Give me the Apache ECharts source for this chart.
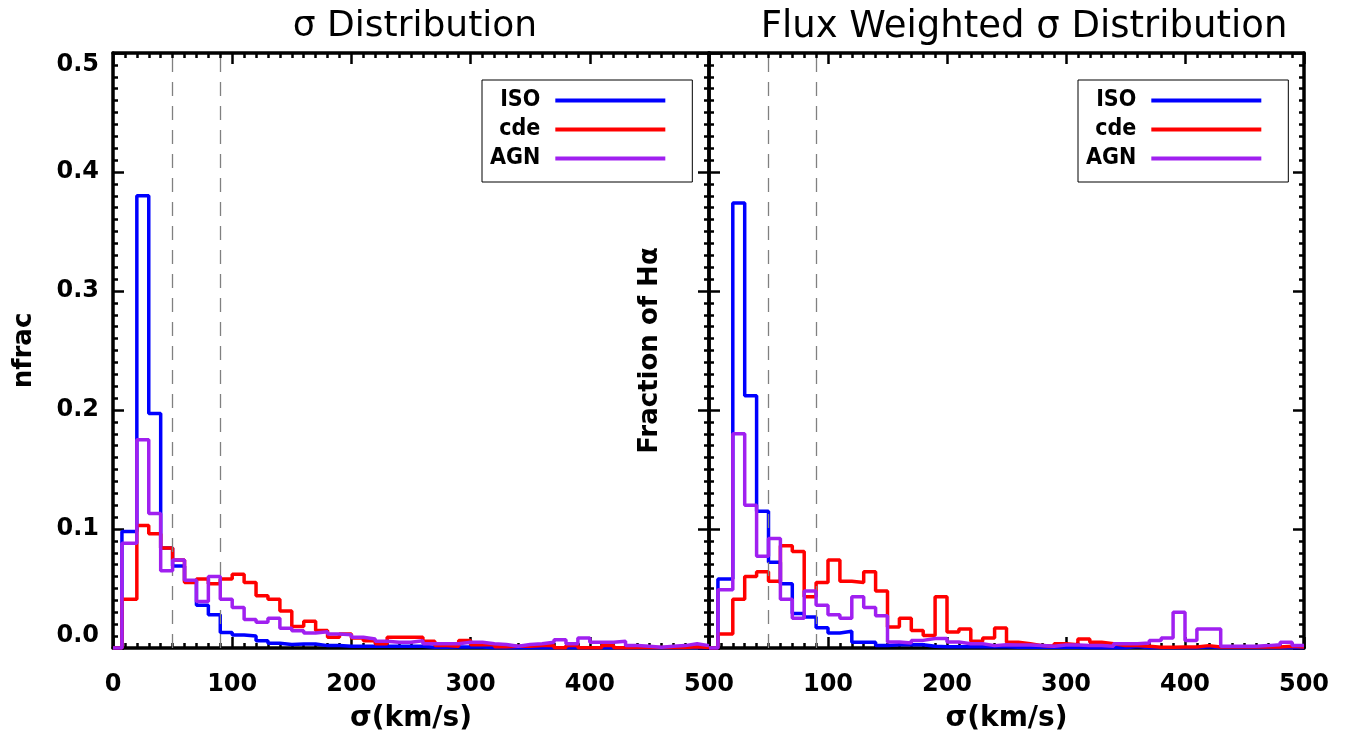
<!DOCTYPE html>
<html>
<head>
<meta charset="utf-8">
<script src="https://cdn.jsdelivr.net/npm/echarts/dist/echarts.min.js"></script>
<style>
html,body{margin:0;padding:0;background:#fff;}
#chart{width:1346px;height:738px;}
</style>
</head>
<body>
<div id="chart"></div>
<script>
// ---- data ----
const binEdges = [0, 7.5, 20, 30, 40, 50, 60, 70, 80, 90, 100, 110, 120, 130, 140, 150, 160, 170, 180, 190, 200,
  210, 220, 230, 240, 250, 260, 270, 280, 290, 300, 310, 320, 330, 340, 350, 360, 370, 380, 390, 400,
  410, 420, 430, 440, 450, 460, 470, 480, 490, 500];

const seriesNames = ['ISO', 'cde', 'AGN'];
const panelTitles = ['σ Distribution', 'Flux Weighted σ Distribution'];
const yAxisNames = ['nfrac', 'Fraction of Hα'];
const xAxisName = 'σ(km/s)';
const xTickLabels = ['0', '100', '200', '300', '400', '500'];
const yTickLabels = ['0.0', '0.1', '0.2', '0.3', '0.4', '0.5'];
const refLines = [50, 90];

const leftISO = [0, 0.098, 0.380, 0.197, 0.084, 0.069, 0.056, 0.036, 0.028, 0.013,
  0.011, 0.010, 0.006, 0.004, 0.003, 0.0034, 0.0034, 0.002, 0.002, 0.0014,
  0.0014, 0.0014, 0.0014, 0.0014, 0.0014, 0.0014, 0.0006, 0.0006, 0.0008, 0.0008,
  0.0008, 0.0003, 0.0002, 0.0002, 0.0002, 0.0002, 0.0002, 0.0002, 0.0002, 0.0002,
  0.0002, 0.0002, 0.0002, 0.0002, 0.0002, 0.0002, 0.0002, 0.0002, 0.0002, 0.0002];
const leftCde = [0, 0.041, 0.103, 0.096, 0.084, 0.074, 0.055, 0.058, 0.054, 0.058,
  0.062, 0.055, 0.044, 0.041, 0.031, 0.018, 0.0224, 0.0148, 0.009, 0.0118,
  0.0084, 0.006, 0.0036, 0.009, 0.009, 0.009, 0.0056, 0.002, 0.0014, 0.0064,
  0.0028, 0.003, 0.001, 0.0014, 0.0014, 0.002, 0.002, 0.0003, 0.002, 0.0003,
  0.0003, 0.002, 0.0003, 0.0005, 0.0005, 0.0005, 0.0005, 0.0005, 0.001, 0.0005];
const leftAGN = [0, 0.088, 0.175, 0.113, 0.065, 0.074, 0.057, 0.039, 0.060, 0.041,
  0.034, 0.024, 0.0216, 0.025, 0.0165, 0.0146, 0.0126, 0.0137, 0.0118, 0.0112,
  0.009, 0.0076, 0.0056, 0.0048, 0.0048, 0.006, 0.0036, 0.0036, 0.0036, 0.0048,
  0.0048, 0.0036, 0.003, 0.0014, 0.003, 0.0036, 0.0048, 0.007, 0.0036, 0.0084,
  0.0048, 0.0048, 0.0056, 0.002, 0.0014, 0.0006, 0.0014, 0.002, 0.0036, 0.002];

const rightISO = [0, 0.058, 0.374, 0.212, 0.115, 0.072, 0.054, 0.029, 0.026, 0.017,
  0.0126, 0.014, 0.0048, 0.0048, 0.002, 0.0028, 0.0028, 0.0028, 0.0014, 0.001,
  0.001, 0.001, 0.001, 0.001, 0.001, 0.0006, 0.0006, 0.0006, 0.0006, 0.0006,
  0.0006, 0.0003, 0.0003, 0.0003, 0.0003, 0.0012, 0.0003, 0.0003, 0.0003, 0.0003,
  0.0003, 0.001, 0.0003, 0.0003, 0.0003, 0.0003, 0.0003, 0.0003, 0.0003, 0.0003];
const rightCde = [0, 0.0118, 0.041, 0.060, 0.064, 0.056, 0.086, 0.081, 0.043, 0.055,
  0.074, 0.056, 0.055, 0.064, 0.048, 0.0176, 0.025, 0.0148, 0.0104, 0.043,
  0.0134, 0.016, 0.0056, 0.0084, 0.0168, 0.0048, 0.0036, 0.002, 0.0014, 0.0036,
  0.0028, 0.0076, 0.0048, 0.0036, 0.002, 0.002, 0.0014, 0.0006, 0.0006, 0.0008,
  0.0008, 0.002, 0.0008, 0.0008, 0.0008, 0.0008, 0.0008, 0.0008, 0.0014, 0.0008];
const rightAGN = [0, 0.049, 0.180, 0.120, 0.077, 0.092, 0.041, 0.025, 0.048, 0.036,
  0.028, 0.025, 0.043, 0.034, 0.027, 0.005, 0.0042, 0.0064, 0.008, 0.008,
  0.005, 0.0036, 0.0036, 0.002, 0.0028, 0.0025, 0.0025, 0.002, 0.0014, 0.0025,
  0.0025, 0.002, 0.002, 0.0014, 0.0036, 0.0036, 0.0042, 0.0064, 0.0084, 0.030,
  0.0064, 0.016, 0.016, 0.0014, 0.0014, 0.0014, 0.002, 0.0028, 0.0048, 0.002];

// ---- styles ----
const colors = ['#0000ff', '#ff0000', '#a020f0'];
const FONT = "'DejaVu Sans', sans-serif";
const COND = "'DejaVu Sans Condensed', 'DejaVu Sans', sans-serif";

function stepData(vals) {
  const out = vals.map((v, i) => [binEdges[i], v]);
  out.push([binEdges[binEdges.length - 1], vals[vals.length - 1]]);
  return out;
}

const grids = [
  {left: 113, top: 53, width: 596, height: 595},
  {left: 709, top: 53, width: 595, height: 595}
];

function xAxisDef(gi, pos, labels) {
  return {
    type: 'value', gridIndex: gi, position: pos, min: 0, max: 500, interval: 100,
    axisLine: {show: true, onZero: false, lineStyle: {color: '#000', width: 3.5}},
    axisTick: {show: true, inside: true, length: 11, lineStyle: {color: '#000', width: 2.5}},
    minorTick: {show: true, splitNumber: 10, length: 5, lineStyle: {color: '#000', width: 2.5}},
    splitLine: {show: false},
    axisLabel: labels ? {
      show: true, margin: 25, color: '#000', fontFamily: FONT, fontWeight: 'bold', fontSize: 24,
      showMinLabel: true, showMaxLabel: true,
      formatter: function (v) {
        const idx = xTickLabels.indexOf(String(v));
        if (gi === 1 && v === 0) return '';
        return idx >= 0 ? xTickLabels[idx] : '';
      }
    } : {show: false},
    name: labels ? xAxisName : '',
    nameLocation: 'middle', nameGap: 57,
    nameTextStyle: {color: '#000', fontFamily: FONT, fontWeight: 'bold', fontSize: 28}
  };
}

function yAxisDef(gi, pos, labels, name, nameGap) {
  return {
    type: 'value', gridIndex: gi, position: pos, min: 0, max: 0.5, interval: 0.1,
    axisLine: {show: true, onZero: false, lineStyle: {color: '#000', width: 3.5}},
    axisTick: {show: true, inside: true, length: 11, lineStyle: {color: '#000', width: 2.5}},
    minorTick: {show: true, splitNumber: 10, length: 5, lineStyle: {color: '#000', width: 2.5}},
    splitLine: {show: false},
    axisLabel: labels ? {
      show: true, margin: 14, color: '#000', fontFamily: FONT, fontWeight: 'bold', fontSize: 24,
      showMinLabel: true, showMaxLabel: true,
      verticalAlignMinLabel: 'bottom', verticalAlignMaxLabel: 'top',
      formatter: function (v) { return yTickLabels[Math.round(v * 10)]; }
    } : {show: false},
    name: name || '',
    nameLocation: 'middle', nameGap: nameGap || 0, nameRotate: 90,
    nameTextStyle: {color: '#000', fontFamily: FONT, fontWeight: 'bold', fontSize: 26}
  };
}

const panels = [[leftISO, leftCde, leftAGN], [rightISO, rightCde, rightAGN]];
const series = [];
panels.forEach((vals, gi) => {
  vals.forEach((v, si) => {
    const s = {
      name: seriesNames[si], type: 'line', step: 'end',
      xAxisIndex: gi * 2, yAxisIndex: gi * 2,
      data: stepData(v), showSymbol: false, symbol: 'none', clip: true,
      lineStyle: {color: colors[si], width: 3.5},
      itemStyle: {color: colors[si], borderWidth: 0},
      z: 3 + si
    };
    if (si === 0) {
      s.markLine = {
        silent: true, symbol: ['none', 'none'], label: {show: false},
        lineStyle: {color: '#808080', type: [14, 10], width: 1.3},
        data: refLines.map(x => ({xAxis: x}))
      };
    }
    series.push(s);
  });
});

function legendDef(left) {
  return {
    orient: 'vertical', left: left, top: 80, align: 'right',
    data: seriesNames, icon: 'rect', itemWidth: 110, itemHeight: 4, itemGap: 6,
    padding: [9, 27, 12, 8],
    borderColor: '#000', borderWidth: 1, backgroundColor: '#fff',
    itemStyle: {borderWidth: 0},
    textStyle: {color: '#000', fontFamily: COND, fontWeight: 'bold', fontSize: 23, lineHeight: 23, padding: [0, 10, 0, 0]},
    selectedMode: false
  };
}

const option = {
  animation: false,
  backgroundColor: '#fff',
  title: [
    {text: panelTitles[0], left: 410, top: 4, textAlign: 'center',
     textStyle: {color: '#000', fontFamily: FONT, fontWeight: 'normal', fontSize: 36}},
    {text: panelTitles[1], left: 1019, top: 4, textAlign: 'center',
     textStyle: {color: '#000', fontFamily: FONT, fontWeight: 'normal', fontSize: 37}}
  ],
  legend: [legendDef(482), legendDef(1078)],
  grid: grids,
  xAxis: [xAxisDef(0, 'bottom', true), xAxisDef(0, 'top', false), xAxisDef(1, 'bottom', true), xAxisDef(1, 'top', false)],
  yAxis: [yAxisDef(0, 'left', true, yAxisNames[0], 76), yAxisDef(0, 'right', false),
          yAxisDef(1, 'left', false, yAxisNames[1], 46), yAxisDef(1, 'right', false)],
  series: series
};

const chart = echarts.init(document.getElementById('chart'), null, {renderer: 'canvas'});
chart.setOption(option);
</script>
</body>
</html>
